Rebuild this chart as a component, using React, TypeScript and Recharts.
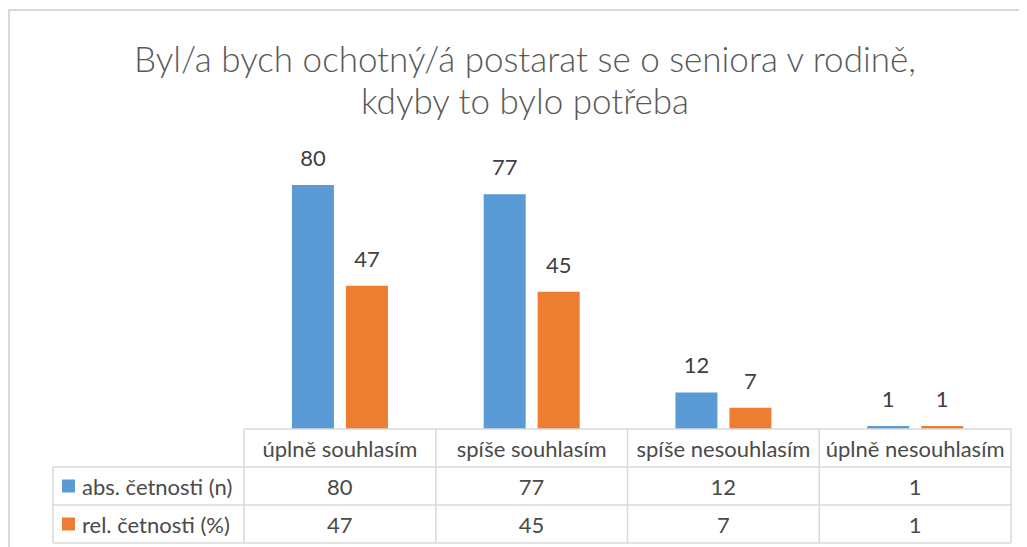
import React from 'react';
import { BarChart, Bar, XAxis, YAxis, LabelList } from 'recharts';

const titleLines = ['Byl/a bych ochotný/á postarat se o seniora v rodině,', 'kdyby to bylo potřeba'];
const categories = ['úplně souhlasím', 'spíše souhlasím', 'spíše nesouhlasím', 'úplně nesouhlasím'];
const absValues = [80, 77, 12, 1];
const relValues = [47, 45, 7, 1];
const seriesNames = ['abs. četnosti (n)', 'rel. četnosti (%)'];

const data = categories.map((cat, i) => ({ cat, abs: absValues[i], rel: relValues[i] }));

const BLUE = '#5B9BD5';
const ORANGE = '#ED7D31';
const GRID = '#d9d9d9';
const TEXT = '#404040';
const FONT = 'Lato, "Open Sans", sans-serif';

const W = 1019;
const H = 539;
const CELL_W = 191.75;
const ROW_H = 38;
const LEGEND_W = 191;

// custom x tick: draws the data table column under each category
const TableTick = (props: any) => {
  const { x, y, payload } = props;
  const i = props.index ?? payload.index;
  const left = x - CELL_W / 2;
  const right = x + CELL_W / 2;
  const rows = [absValues, relValues];
  const colors = [BLUE, ORANGE];
  const tableRight = left + CELL_W * categories.length;
  const txt = { fontFamily: FONT, fontSize: 22, fill: '#4a4a4a' };
  return (
    <g>
      <line x1={left} y1={y} x2={left} y2={y + 3 * ROW_H} stroke={GRID} strokeWidth={1.5} />
      {i === categories.length - 1 && (
        <line x1={right} y1={y} x2={right} y2={y + 3 * ROW_H} stroke={GRID} strokeWidth={1.5} />
      )}
      <text x={x} y={y + ROW_H / 2} textAnchor="middle" dominantBaseline="central" {...txt}>
        {payload.value}
      </text>
      {rows.map((vals, r) => (
        <text key={r} x={x} y={y + ROW_H * (r + 1.5)} textAnchor="middle" dominantBaseline="central" {...txt}>
          {vals[i]}
        </text>
      ))}
      {i === 0 && (
        <g>
          {[1, 2, 3].map((k) => (
            <line key={k} x1={left - LEGEND_W} y1={y + ROW_H * k} x2={tableRight} y2={y + ROW_H * k} stroke={GRID} strokeWidth={1.5} />
          ))}
          <line x1={left - LEGEND_W} y1={y + ROW_H} x2={left - LEGEND_W} y2={y + 3 * ROW_H} stroke={GRID} strokeWidth={1.5} />
          {seriesNames.map((name, r) => (
            <g key={name}>
              <rect x={left - LEGEND_W + 9} y={y + ROW_H * (r + 1.5) - 6.5} width={13} height={13} fill={colors[r]} />
              <text x={left - LEGEND_W + 29} y={y + ROW_H * (r + 1.5)} dominantBaseline="central" {...txt}>
                {name}
              </text>
            </g>
          ))}
        </g>
      )}
    </g>
  );
};

export default function App() {
  return (
    <div style={{ position: 'relative', width: W, height: H, background: '#fff' }}>
      <div style={{ position: 'absolute', left: 0, top: 1, width: W, height: 2, background: GRID }} />
      <div style={{ position: 'absolute', left: 0, top: 1, width: 2, height: H, background: GRID }} />
      <div
        style={{
          position: 'absolute',
          left: 0,
          top: 29,
          width: 1034,
          textAlign: 'center',
          fontFamily: FONT,
          fontWeight: 300,
          fontSize: 35,
          lineHeight: '42px',
          color: '#595959',
        }}
      >
        {titleLines.map((l) => (
          <div key={l}>{l}</div>
        ))}
      </div>
      <div style={{ position: 'absolute', left: 0, top: 0 }}>
        <BarChart
          width={W}
          height={H}
          data={data}
          margin={{ top: 146.5, right: 16, bottom: 0, left: 236 }}
          barCategoryGap="25%"
          barGap={12}
        >
          <XAxis
            dataKey="cat"
            height={118}
            interval={0}
            tickSize={0}
            tickMargin={0}
            tickLine={false}
            axisLine={{ stroke: GRID, strokeWidth: 1.5 }}
            tick={<TableTick />}
          />
          <YAxis hide domain={[0, 90]} />
          <Bar dataKey="abs" name={seriesNames[0]} fill={BLUE} isAnimationActive={false}>
            <LabelList dataKey="abs" position="top" offset={19} fill={TEXT} fontSize={22} fontFamily={FONT} />
          </Bar>
          <Bar dataKey="rel" name={seriesNames[1]} fill={ORANGE} isAnimationActive={false}>
            <LabelList dataKey="rel" position="top" offset={19} fill={TEXT} fontSize={22} fontFamily={FONT} />
          </Bar>
        </BarChart>
      </div>
    </div>
  );
}
